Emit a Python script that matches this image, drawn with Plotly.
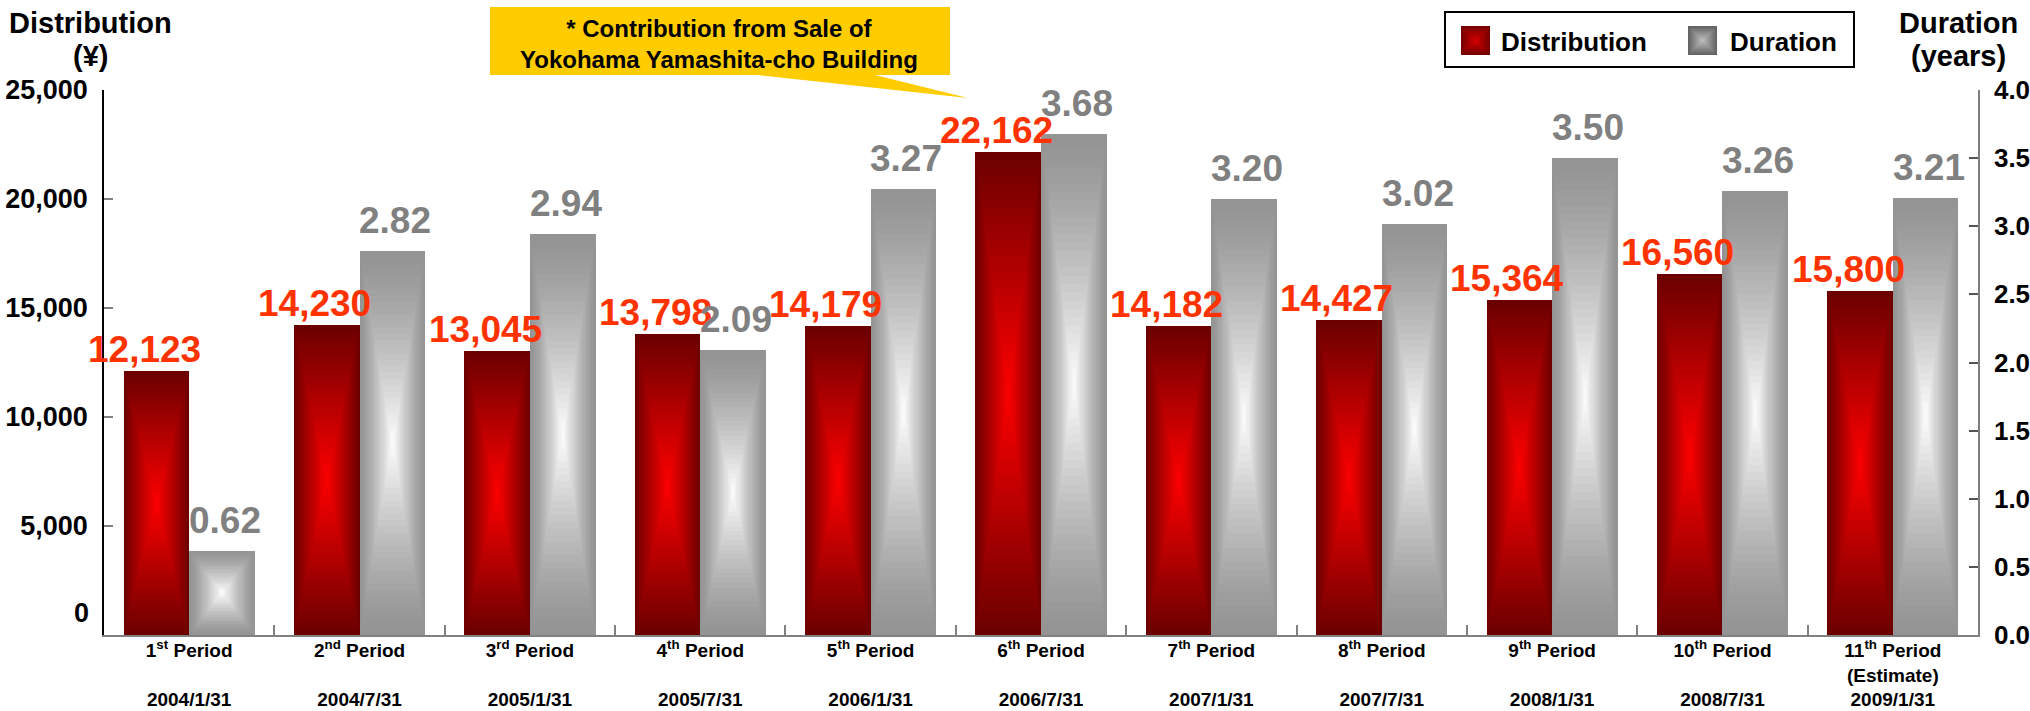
import plotly.graph_objects as go

# ---------------- data ----------------
periods = ["1<sup>st</sup> Period", "2<sup>nd</sup> Period", "3<sup>rd</sup> Period",
           "4<sup>th</sup> Period", "5<sup>th</sup> Period", "6<sup>th</sup> Period",
           "7<sup>th</sup> Period", "8<sup>th</sup> Period", "9<sup>th</sup> Period",
           "10<sup>th</sup> Period", "11<sup>th</sup> Period"]
notes = ["", "", "", "", "", "", "", "", "", "", "(Estimate)"]
dates = ["2004/1/31", "2004/7/31", "2005/1/31", "2005/7/31", "2006/1/31", "2006/7/31",
         "2007/1/31", "2007/7/31", "2008/1/31", "2008/7/31", "2009/1/31"]
distribution = [12123, 14230, 13045, 13798, 14179, 22162, 14182, 14427, 15364, 16560, 15800]
duration = [0.62, 2.82, 2.94, 2.09, 3.27, 3.68, 3.20, 3.02, 3.50, 3.26, 3.21]
left_ticks = [5000, 10000, 15000, 20000, 25000]
right_ticks = [0.0, 0.5, 1.0, 1.5, 2.0, 2.5, 3.0, 3.5, 4.0]

categories = [f"{p}<br>{n if n else ' '}<br>{d}" for p, n, d in zip(periods, notes, dates)]

# ---------------- style ----------------
FONT = "Liberation Sans, Arial, sans-serif"
W = 0.385          # bar width in category units
N = 30             # gradient steps (concentric rectangles)
L, R, T, B = 104, 1978, 90, 635
PX_PER_CAT = (R - L) / 11


def mix(c1, c2, f):
    return "rgb({},{},{})".format(*[round(a + (b - a) * f) for a, b in zip(c1, c2)])


def px(x):
    return (x - L) / (R - L)


def py(y):
    return (B - y) / (B - T)


def bold(size, color="black"):
    return dict(family=FONT, size=size, color=color, weight="bold")


RED_OUT, RED_IN = (108, 0, 0), (255, 0, 0)
GRY_OUT, GRY_IN = (148, 148, 148), (255, 255, 255)

fig = go.Figure()


def gradient_bars(vals, center, c_out, c_in, power, yaxis):
    for k in range(N):
        t = k / N
        w = W * (1 - t)
        fig.add_trace(go.Bar(
            x=categories,
            y=[v * (1 - t) for v in vals],
            base=[v * t / 2 for v in vals],
            width=w, offset=center - w / 2,
            marker=dict(color=mix(c_out, c_in, t ** power), line=dict(width=0)),
            yaxis=yaxis, showlegend=False, hoverinfo="skip",
        ))


gradient_bars(distribution, -W / 2, RED_OUT, RED_IN, 1.0, "y")
gradient_bars(duration, W / 2, GRY_OUT, GRY_IN, 1.3, "y2")

annotations = []
# value labels
for c, v in zip(categories, distribution):
    annotations.append(dict(x=c, y=v, xref="x", yref="y", text=f"{v:,}", showarrow=False,
                            xanchor="center", yanchor="bottom",
                            xshift=-W / 2 * PX_PER_CAT - 12, yshift=-1,
                            font=bold(37, "#FF3300")))
for c, v in zip(categories, duration):
    annotations.append(dict(x=c, y=v, xref="x", yref="y2", text=f"{v:.2f}", showarrow=False,
                            xanchor="center", yanchor="bottom",
                            xshift=W / 2 * PX_PER_CAT + 3, yshift=8,
                            font=bold(37, "#808080")))

# axis titles (one annotation per line)
for txt, x, y in [("Distribution", 90, 23), ("(¥)", 90, 56),
                  ("Duration", 1958, 23), ("(years)", 1958, 56)]:
    annotations.append(dict(x=px(x), y=py(y), xref="paper", yref="paper", text=txt,
                            xanchor="center", yanchor="middle", showarrow=False, font=bold(29)))

# left zero label (drawn slightly raised as in the original)
annotations.append(dict(x=0, y=0, xref="paper", yref="y", text="0", showarrow=False,
                        xanchor="right", yanchor="middle", xshift=-13, yshift=22, font=bold(27)))

shapes = []
# callout balloon
path = "M {},{} L {},{} L {},{} L {},{} L {},{} L {},{} L {},{} Z".format(
    px(490), py(7), px(950), py(7), px(950), py(75), px(875), py(75),
    px(968), py(98), px(758), py(75), px(490), py(75))
shapes.append(dict(type="path", path=path, xref="paper", yref="paper",
                   fillcolor="#FFCC00", line=dict(width=0), layer="above"))
annotations.append(dict(x=px(719), y=py(44), xref="paper", yref="paper",
                        text="* Contribution from Sale of<br>Yokohama Yamashita-cho Building",
                        xanchor="center", yanchor="middle", showarrow=False, font=bold(24)))

# legend (drawn manually to match the large swatches)
shapes.append(dict(type="rect", xref="paper", yref="paper", x0=px(1445), x1=px(1854),
                   y0=py(67), y1=py(12), line=dict(color="black", width=2), fillcolor="white"))


def swatch(x0, y0, size, c_out, c_in):
    steps = 10
    for k in range(steps):
        t = k / steps
        d = size / 2 * t
        shapes.append(dict(type="rect", xref="paper", yref="paper",
                           x0=px(x0 + d), x1=px(x0 + size - d),
                           y0=py(y0 + size - d), y1=py(y0 + d),
                           line=dict(width=0), fillcolor=mix(c_out, c_in, t)))


swatch(1461, 26, 29, (118, 0, 0), (215, 0, 0))
swatch(1688, 26, 29, (100, 100, 100), (195, 195, 195))
annotations.append(dict(x=px(1499), y=py(42), xref="paper", yref="paper", text="Distribution",
                        xanchor="left", yanchor="middle", showarrow=False, font=bold(26)))
annotations.append(dict(x=px(1728), y=py(42), xref="paper", yref="paper", text="Duration",
                        xanchor="left", yanchor="middle", showarrow=False, font=bold(26)))

fig.update_layout(
    width=2030, height=711,
    margin=dict(l=L, r=2030 - R, t=T, b=711 - B),
    paper_bgcolor="white", plot_bgcolor="white",
    barmode="overlay", bargap=0,
    showlegend=False,
    font=dict(family=FONT, color="black"),
    xaxis=dict(type="category", range=[-0.5, 10.5], showline=True, linecolor="#808080",
               linewidth=2, ticks="inside", tickson="boundaries", ticklen=10, tickcolor="#808080",
               tickwidth=1.5, showgrid=False, automargin=False, ticklabelstandoff=-3,
               tickfont=bold(19)),
    yaxis=dict(range=[0, 25000], tickvals=left_ticks, tickformat=",", showline=True,
               linecolor="black", linewidth=1.5, ticks="inside", ticklen=9, tickcolor="#808080",
               tickwidth=1.5, showgrid=False, zeroline=False, automargin=False,
               ticklabelstandoff=9, tickfont=bold(27)),
    yaxis2=dict(range=[0, 4], tickvals=right_ticks, tickformat=".1f", overlaying="y",
                side="right", showline=True, linecolor="#808080", linewidth=1.5,
                ticks="inside", ticklen=9, tickcolor="#555555", tickwidth=1.5,
                showgrid=False, zeroline=False, automargin=False, ticklabelstandoff=9,
                tickfont=bold(26)),
    shapes=shapes,
    annotations=annotations,
)

fig.write_html("out.html")
